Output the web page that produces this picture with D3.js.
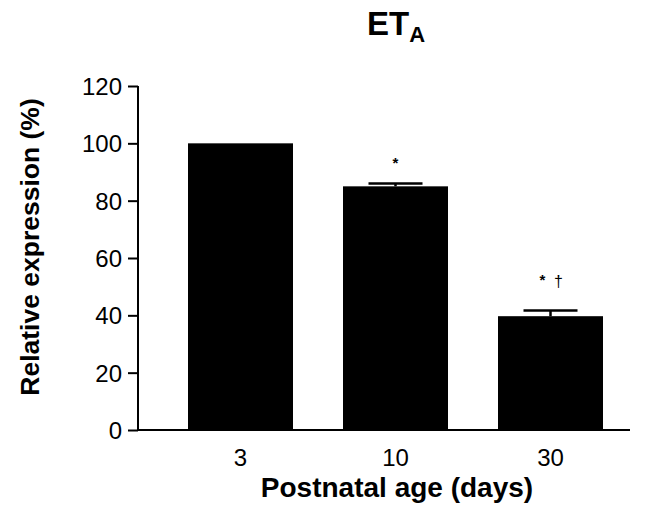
<!DOCTYPE html>
<html><head><meta charset="utf-8">
<script src="https://cdn.jsdelivr.net/npm/d3@7"></script>
<style>body{margin:0;background:#fff}svg{display:block}text{font-family:Arial,"Liberation Sans",Helvetica,sans-serif;fill:#000}</style>
</head><body><svg id="c" width="661" height="507"></svg>
<script>
const categories = ["3", "10", "30"];
const values = [100, 85, 39.7];
const errors = [0, 1, 2];
const stars = ["", "*", "*"];
const daggers = ["", "", "\u2020"];
const markLevel = [null, 91.5, 50.5];
const yTicks = [0, 20, 40, 60, 80, 100, 120];

const svg = d3.select("#c");
const y = d3.scaleLinear().domain([0, 120]).range([430, 86]);
const x = d3.scaleBand().domain(categories).range([163, 628]).paddingInner(50/155).paddingOuter(25/155);

// bars
svg.selectAll("rect.bar").data(values).join("rect")
  .attr("x", (d,i)=>x(categories[i])).attr("y", d=>y(d))
  .attr("width", x.bandwidth()).attr("height", d=>y(0)-y(d)).attr("fill","#000");

// error bars
const eb = svg.append("g").attr("stroke","#000").attr("stroke-width",2.5);
values.forEach((v,i)=>{
  if(!errors[i]) return;
  const cx = x(categories[i]) + x.bandwidth()/2;
  eb.append("line").attr("x1",cx).attr("x2",cx).attr("y1",y(v)).attr("y2",y(v+errors[i]));
  eb.append("line").attr("x1",cx-27).attr("x2",cx+27).attr("y1",y(v+errors[i])).attr("y2",y(v+errors[i]));
});

// annotations
values.forEach((v,i)=>{
  if(markLevel[i] == null) return;
  const cx = x(categories[i]) + x.bandwidth()/2;
  const yy = y(markLevel[i]);
  if(stars[i]) {
    svg.append("text").attr("x", daggers[i] ? cx-8 : cx).attr("y", yy)
      .attr("text-anchor","middle").attr("font-size",15).attr("font-weight","bold").text(stars[i]);
  }
  if(daggers[i]) {
    svg.append("text").attr("x", cx+8).attr("y", yy+2)
      .attr("text-anchor","middle").attr("font-size",16).attr("fill","#000").text(daggers[i]);
  }
});

// y axis
const ya = svg.append("g").attr("transform","translate(138,0)")
  .call(d3.axisLeft(y).tickValues(yTicks).tickSize(10).tickPadding(6));
ya.select(".domain").attr("stroke-width",2).attr("d", `M0,${y(120)}V${y(0)}`);
ya.selectAll(".tick line").attr("stroke-width",2);
ya.selectAll(".tick text").style("font-size","24px").attr("fill","#000").attr("dy","0.36em");

// x axis
const xa = svg.append("g").attr("transform","translate(0,430)")
  .call(d3.axisBottom(x).tickSize(0).tickPadding(19));
xa.select(".domain").attr("stroke-width",2).attr("d","M138,0H630");
xa.selectAll(".tick text").style("font-size","24px").attr("fill","#000");

// titles
const t = svg.append("text").attr("x",367).attr("y",35).attr("font-size",33).attr("font-weight","bold");
t.append("tspan").text("ET");
t.append("tspan").attr("font-size",22).attr("dy",7).text("A");

svg.append("text").attr("x",397).attr("y",497).attr("text-anchor","middle")
  .attr("font-size",28).attr("font-weight","bold").text("Postnatal age (days)");
svg.append("text").attr("transform","translate(39,247) rotate(-90)").attr("text-anchor","middle")
  .attr("font-size",26.5).attr("font-weight","bold").text("Relative expression (%)");
</script></body></html>
